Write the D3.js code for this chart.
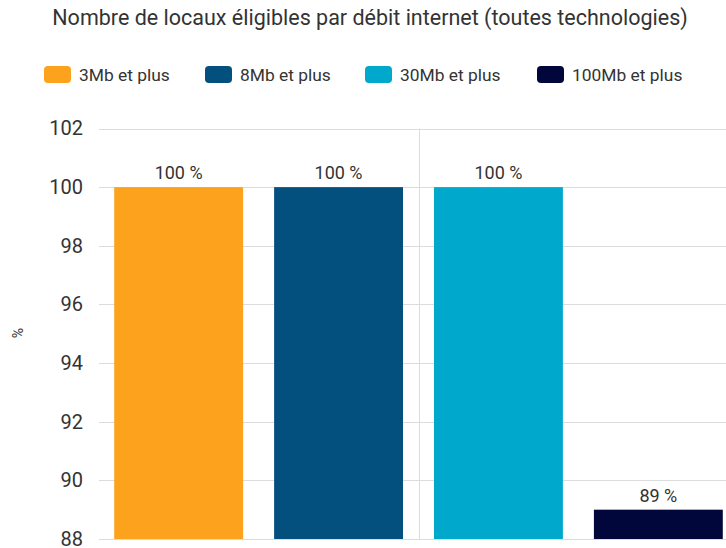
<!DOCTYPE html>
<html>
<head>
<meta charset="utf-8">
<script src="https://cdn.jsdelivr.net/npm/d3@7"></script>
<style>
  html, body { margin: 0; padding: 0; background: #fff; }
  svg { display: block; font-family: Roboto, "Noto Sans", sans-serif; }
</style>
</head>
<body>
<svg id="chart" width="726" height="548"></svg>
<script>
// Chart data
const title = "Nombre de locaux éligibles par débit internet (toutes technologies)";
const seriesNames = ["3Mb et plus", "8Mb et plus", "30Mb et plus", "100Mb et plus"];
const seriesValues = [100, 100, 100, 89];
const seriesColors = ["#fca21c", "#03507f", "#00a8cc", "#01073a"];
const yTicks = [88, 90, 92, 94, 96, 98, 100, 102];
const yLabel = "%";

const svg = d3.select("#chart");
const W = 726, H = 548;
const plot = { left: 99, right: 738, top: 128.5, bottom: 539 };

// Scales
const y = d3.scaleLinear().domain([88, 102]).range([plot.bottom, plot.top]);
const xGroup = d3.scaleBand().domain(["all"]).range([plot.left, plot.right]).paddingOuter(0.025);
const xSeries = d3.scaleBand()
  .domain(seriesNames)
  .range([xGroup("all"), xGroup("all") + xGroup.bandwidth()])
  .paddingInner(0.194);

// Title
svg.append("text")
  .attr("x", 370).attr("y", 25)
  .attr("text-anchor", "middle")
  .attr("font-size", 21.5)
  .attr("fill", "#333")
  .text(title);

// Legend
const legendX = [44, 205, 365, 537];
const legend = svg.append("g");
seriesNames.forEach((name, i) => {
  const g = legend.append("g").attr("transform", `translate(${legendX[i]},66)`);
  g.append("rect").attr("width", 27).attr("height", 17).attr("rx", 4)
    .attr("fill", seriesColors[i]);
  g.append("text").attr("x", 35).attr("y", 14.5)
    .attr("font-size", 17.4).attr("fill", "#333").text(name);
});

// Y axis labels
const yAxis = d3.axisLeft(y).tickValues(yTicks).tickSize(0).tickPadding(16)
  .tickFormat(d3.format("d"));
const gy = svg.append("g").attr("transform", `translate(${plot.left},0)`).call(yAxis);
gy.select(".domain").remove();
gy.selectAll("text").attr("font-size", 20).attr("fill", "#333")
  .attr("font-family", "Roboto, sans-serif");

// Horizontal gridlines
svg.append("g").selectAll("line").data(yTicks).join("line")
  .attr("x1", plot.left).attr("x2", W)
  .attr("y1", d => Math.round(y(d)) + 0.5).attr("y2", d => Math.round(y(d)) + 0.5)
  .attr("stroke", "#dcdcdc").attr("stroke-width", 1);

// Category gridline at the centre of the group
const cx = xGroup("all") + xGroup.bandwidth() / 2;
svg.append("line")
  .attr("x1", Math.round(cx) + 0.5).attr("x2", Math.round(cx) + 0.5)
  .attr("y1", plot.top).attr("y2", plot.bottom)
  .attr("stroke", "#dcdcdc").attr("stroke-width", 1);

// Bars
svg.append("g").selectAll("rect").data(seriesNames).join("rect")
  .attr("x", d => xSeries(d))
  .attr("width", xSeries.bandwidth())
  .attr("y", (d, i) => y(seriesValues[i]))
  .attr("height", (d, i) => y(88) - y(seriesValues[i]))
  .attr("fill", (d, i) => seriesColors[i]);

// Value labels
svg.append("g").selectAll("text").data(seriesNames).join("text")
  .attr("x", d => xSeries(d) + xSeries.bandwidth() / 2)
  .attr("y", (d, i) => y(seriesValues[i]) - 8)
  .attr("text-anchor", "middle")
  .attr("font-size", 18).attr("fill", "#333")
  .text((d, i) => `${seriesValues[i]} %`);

// Y axis title
svg.append("text")
  .attr("transform", `translate(23,333) rotate(-90)`)
  .attr("text-anchor", "middle")
  .attr("font-size", 14).attr("fill", "#333")
  .text(yLabel);
</script>
</body>
</html>
